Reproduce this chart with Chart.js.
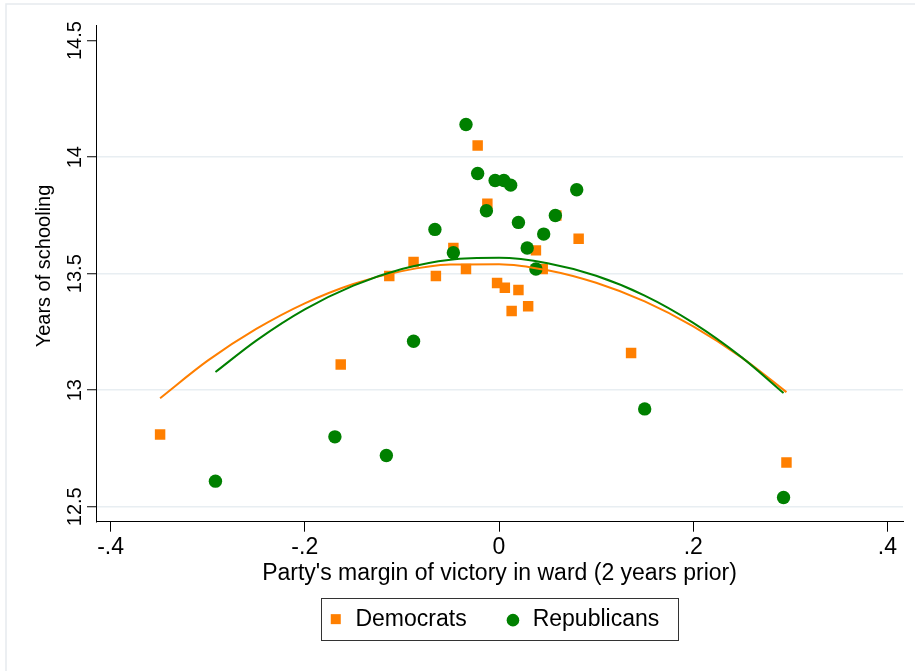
<!DOCTYPE html>
<html>
<head>
<meta charset="utf-8">
<script src="https://cdn.jsdelivr.net/npm/chart.js@4.4.1/dist/chart.umd.min.js"></script>
<style>
html, body { margin: 0; padding: 0; background: #fff; }
</style>
</head>
<body>
<canvas id="grafico" width="915" height="671"></canvas>
<script>
//<editor-fold defaultstate="collapsed" desc="Datos">
var xTicks = [-0.4, -0.2, 0, 0.2, 0.4];
var xTickLabels = ['-.4', '-.2', '0', '.2', '.4'];
var yTicks = [12.5, 13, 13.5, 14, 14.5];
var yTickLabels = ['12.5', '13', '13.5', '14', '14.5'];

var seriesNames = ['Democrats', 'Republicans'];

var demX = [-0.349, -0.163, -0.113, -0.088, -0.065, -0.047, -0.034, -0.022, -0.012, -0.002, 0.006, 0.013, 0.020, 0.030, 0.038, 0.045, 0.059, 0.082, 0.136, 0.296];
var demY = [12.81, 13.11, 13.49, 13.55, 13.49, 13.61, 13.52, 14.05, 13.80, 13.46, 13.44, 13.34, 13.43, 13.36, 13.60, 13.52, 13.75, 13.65, 13.16, 12.69];

var repX = [-0.292, -0.169, -0.116, -0.088, -0.066, -0.047, -0.034, -0.022, -0.013, -0.004, 0.005, 0.012, 0.020, 0.029, 0.038, 0.046, 0.058, 0.080, 0.150, 0.293];
var repY = [12.61, 12.80, 12.72, 13.21, 13.69, 13.59, 14.14, 13.93, 13.77, 13.90, 13.90, 13.88, 13.72, 13.61, 13.52, 13.67, 13.75, 13.86, 12.92, 12.54];

// quadratic fit lines
var demFitX = [-0.349, -0.3, -0.25, -0.2, -0.15, -0.1, -0.05, 0, 0.05, 0.1, 0.15, 0.2, 0.25, 0.296];
var demFitY = [12.966, 13.127, 13.263, 13.373, 13.456, 13.511, 13.539, 13.541, 13.515, 13.461, 13.381, 13.274, 13.140, 12.992];
var repFitX = [-0.292, -0.25, -0.2, -0.15, -0.1, -0.05, 0, 0.05, 0.1, 0.15, 0.2, 0.25, 0.293];
var repFitY = [13.078, 13.213, 13.347, 13.449, 13.520, 13.560, 13.568, 13.545, 13.491, 13.406, 13.289, 13.141, 12.988];
//</editor-fold>

var naranja = '#ff7f00';
var verde = '#008000';
var fuente = '"Liberation Sans", Arial, Helvetica, sans-serif';

function pares(xs, ys) {
	return xs.map(function (x, i) {
		return {x: x, y: ys[i]};
	});
}

var fondoPlugin = {
	id: 'fondo',
	beforeDraw: function (chart) {
		var ctx = chart.ctx;
		ctx.save();
		ctx.fillStyle = '#fff';
		ctx.fillRect(0, 0, chart.width, chart.height);
		ctx.strokeStyle = '#e6eaee';
		ctx.lineWidth = 1.5;
		ctx.beginPath();
		ctx.moveTo(6, chart.height);
		ctx.lineTo(6, 4);
		ctx.lineTo(chart.width, 4);
		ctx.stroke();
		ctx.restore();
	}
};

var textosPlugin = {
	id: 'textos',
	afterDraw: function (chart) {
		var ctx = chart.ctx;
		var yScale = chart.scales.y;
		var area = chart.chartArea;
		ctx.save();
		ctx.fillStyle = '#000';
		ctx.textAlign = 'center';
		ctx.textBaseline = 'middle';

		// y tick labels, vertical
		ctx.font = '20px ' + fuente;
		yTicks.forEach(function (v, i) {
			var py = yScale.getPixelForValue(v);
			ctx.save();
			ctx.translate(74, py);
			ctx.rotate(-Math.PI / 2);
			ctx.fillText(yTickLabels[i], 0, 1);
			ctx.restore();
		});
		ctx.save();
		ctx.translate(44, 266);
		ctx.rotate(-Math.PI / 2);
		ctx.fillText('Years of schooling', 0, 0);
		ctx.restore();

		// legend with frame
		ctx.font = '23px ' + fuente;
		var w1 = ctx.measureText(seriesNames[0]).width;
		var w2 = ctx.measureText(seriesNames[1]).width;
		var total = 34.4 + w1 + 46.3 + 19.7 + w2 + 18.7;
		var izq = (area.left + area.right) / 2 - total / 2;
		var arriba = 598.3, alto = 41.7;
		var cy = arriba + alto / 2;
		ctx.strokeStyle = '#333';
		ctx.lineWidth = 1;
		ctx.strokeRect(Math.round(izq) + 0.5, Math.round(arriba) + 0.5, Math.round(total), Math.round(alto));
		ctx.fillStyle = naranja;
		ctx.fillRect(izq + 14.7 - 5, cy - 5, 10, 10);
		var cx2 = izq + 34.4 + w1 + 46.3;
		ctx.fillStyle = verde;
		ctx.beginPath();
		ctx.arc(cx2, cy + 1, 6.3, 0, Math.PI * 2);
		ctx.fill();
		ctx.fillStyle = '#000';
		ctx.textAlign = 'left';
		ctx.fillText(seriesNames[0], izq + 34.4, cy + 1);
		ctx.fillText(seriesNames[1], cx2 + 19.7, cy + 1);
		ctx.restore();
	}
};

var config = {
	type: 'scatter',
	data: {
		datasets: [
			{
				label: seriesNames[1] + ' fit',
				data: pares(repFitX, repFitY),
				showLine: true,
				borderColor: verde,
				borderWidth: 2,
				pointRadius: 0,
				cubicInterpolationMode: 'monotone',
				order: 0
			},
			{
				label: seriesNames[0] + ' fit',
				data: pares(demFitX, demFitY),
				showLine: true,
				borderColor: naranja,
				borderWidth: 2,
				pointRadius: 0,
				cubicInterpolationMode: 'monotone',
				order: 1
			},
			{
				label: seriesNames[1],
				data: pares(repX, repY),
				pointStyle: 'circle',
				pointRadius: 6.7,
				pointBorderWidth: 0,
				backgroundColor: verde,
				borderColor: verde,
				order: 2
			},
			{
				label: seriesNames[0],
				data: pares(demX, demY),
				pointStyle: 'rect',
				pointRadius: 7.4,
				pointBorderWidth: 0,
				backgroundColor: naranja,
				borderColor: naranja,
				order: 3
			}
		]
	},
	options: {
		responsive: false,
		animation: false,
		devicePixelRatio: 1,
		events: [],
		layout: {padding: {top: 25, right: 12, left: 0, bottom: 0}},
		plugins: {
			legend: {display: false},
			tooltip: {enabled: false}
		},
		scales: {
			x: {
				type: 'linear',
				min: -0.415,
				max: 0.416,
				afterBuildTicks: function (scale) {
					scale.ticks = xTicks.map(function (v) { return {value: v}; });
				},
				afterFit: function (scale) {
					scale.height = 149.3;
				},
				ticks: {
					autoSkip: false,
					maxRotation: 0,
					padding: 2.5,
					color: '#000',
					font: {family: fuente, size: 23},
					callback: function (value) {
						return xTickLabels[xTicks.indexOf(value)];
					}
				},
				grid: {
					drawOnChartArea: false,
					drawTicks: true,
					tickLength: 10,
					tickColor: '#000',
					tickWidth: 1
				},
				border: {display: true, color: '#000', width: 1},
				title: {
					display: true,
					text: "Party's margin of victory in ward (2 years prior)",
					color: '#000',
					font: {family: fuente, size: 23},
					padding: {top: 0, bottom: 83.2}
				}
			},
			y: {
				type: 'linear',
				min: 12.436,
				max: 14.567,
				afterBuildTicks: function (scale) {
					scale.ticks = yTicks.map(function (v) { return {value: v}; });
				},
				afterFit: function (scale) {
					scale.width = 96;
				},
				ticks: {display: false},
				grid: {
					color: function (c) {
						return c.tick && c.tick.value === 14.5 ? 'rgba(0,0,0,0)' : '#e8eef2';
					},
					lineWidth: 1.5,
					drawTicks: true,
					tickLength: 9,
					tickColor: '#000',
					tickWidth: 1
				},
				border: {display: true, color: '#000', width: 1}
			}
		}
	},
	plugins: [fondoPlugin, textosPlugin]
};

var grafico = new Chart(document.getElementById('grafico').getContext('2d'), config);
</script>
</body>
</html>
